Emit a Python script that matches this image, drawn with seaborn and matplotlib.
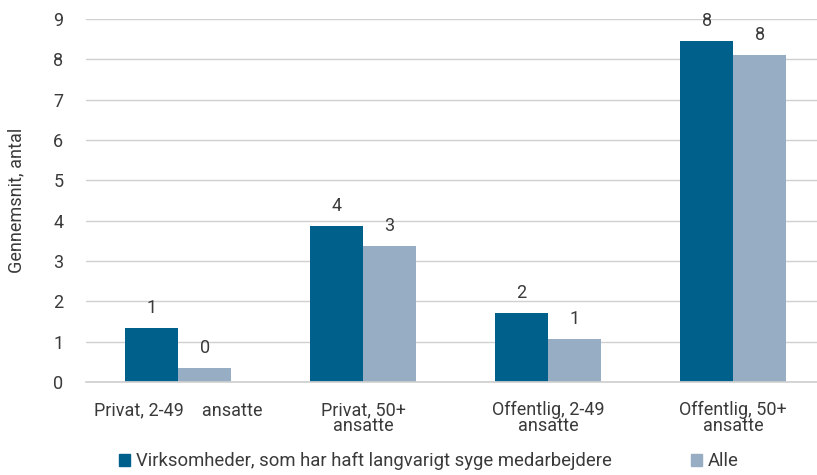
import matplotlib
matplotlib.use("Agg")
import matplotlib.pyplot as plt
import seaborn as sns
import pandas as pd
from matplotlib.patches import Patch

categories = ["Privat, 2-49    ansatte", "Privat, 50+\nansatte", "Offentlig, 2-49\nansatte", "Offentlig, 50+\nansatte"]
series_names = ["Virksomheder, som har haft langvarigt syge medarbejdere", "Alle"]
values_syge = [1.34, 3.86, 1.71, 8.46]
values_alle = [0.35, 3.37, 1.07, 8.11]
colors = ["#00608c", "#97adc4"]

sns.set_theme(style="white")
plt.rcParams['font.family'] = ['Roboto', 'DejaVu Sans']

TXT = "#3a3a3a"

df = pd.DataFrame({
    "cat": categories * 2,
    "serie": [series_names[0]] * 4 + [series_names[1]] * 4,
    "val": values_syge + values_alle,
})

fig = plt.figure(figsize=(8.17, 4.75), dpi=100)
ax = fig.add_axes([0.1047, 0.196, 0.906, 0.764])
sns.barplot(data=df, x="cat", y="val", hue="serie", palette=colors, width=0.573,
            ax=ax, saturation=1, legend=False, order=categories, hue_order=series_names,
            linewidth=0)

for cont in ax.containers:
    ax.bar_label(cont, labels=[f"{round(v.get_height())}" for v in cont], padding=8,
                 fontsize=13, color=TXT)

ax.set_ylim(0, 9)
ax.set_yticks(range(10))
ax.set_xlim(-0.5, 3.5)
ax.grid(axis="y", color="#d0d0d0", linewidth=1)
ax.set_axisbelow(True)
for s in ["top", "right", "left"]:
    ax.spines[s].set_visible(False)
ax.spines["bottom"].set_color("#d0d0d0")
ax.tick_params(axis="y", labelsize=13, colors=TXT, pad=16, length=0)
ax.tick_params(axis="x", labelsize=13, colors=TXT, pad=14, length=0)
for t in ax.get_xticklabels():
    t.set_linespacing(0.85)
ax.set_xlabel("")
ax.set_ylabel("Gennemsnit, antal", fontsize=13, color=TXT, labelpad=20)

handles = [Patch(color=c) for c in colors]
fig.legend(handles, series_names, loc="lower center", bbox_to_anchor=(0.525, -0.025), ncol=2,
           frameon=False, fontsize=13.3, handlelength=0.6, handleheight=0.6, handletextpad=0.3,
           columnspacing=4.3, labelcolor=TXT)

fig.savefig("out.png", dpi=100)
